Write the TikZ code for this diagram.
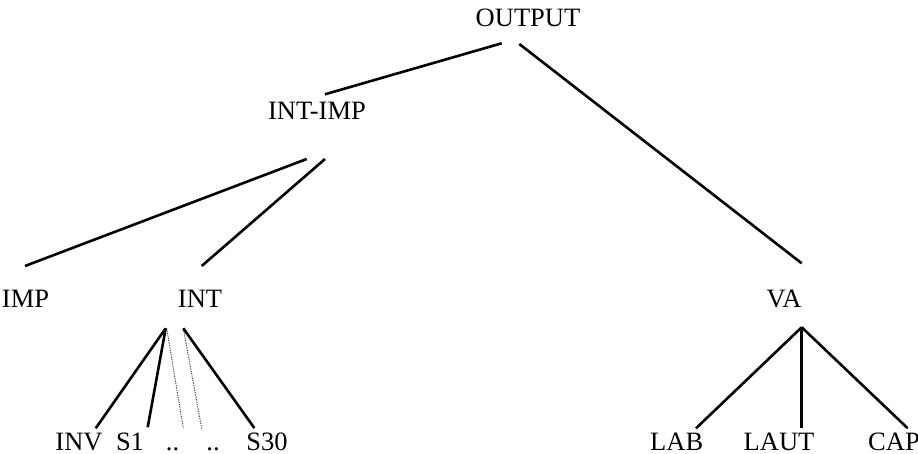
\documentclass[tikz,border=0pt]{standalone}
\usepackage{fontspec}
\setmainfont{Liberation Serif}
\begin{document}
\begin{tikzpicture}[x=1pt,y=-1pt,
  lbl/.style={anchor=base,inner sep=0pt,font=\fontsize{26.5}{30}\selectfont},
  edge/.style={line width=2.6pt},
  dotedge/.style={line width=0.9pt,dash pattern=on 1.2pt off 1.2pt,black!80}]
\useasboundingbox (0,0) rectangle (918,454);
% labels
\node[lbl] (out) at (528,27) {OUTPUT};
\node[lbl] (intimp) at (317,120) {INT-IMP};
\node[lbl] (imp) at (25.5,308) {IMP};
\node[lbl] (int) at (200,308) {INT};
\node[lbl] (va) at (784,308) {VA};
\node[lbl] (inv) at (79,450) {INV};
\node[lbl] (s1) at (130,450) {S1};
\node[lbl] (d1) at (172.5,450) {..};
\node[lbl] (d2) at (213,450) {..};
\node[lbl] (s30) at (267,450) {S30};
\node[lbl] (lab) at (676.7,450) {LAB};
\node[lbl] (laut) at (779,450) {LAUT};
\node[lbl] (cap) at (894,450) {CAP};
% connector end points
\coordinate (outL) at (501.7,43.3);
\coordinate (outR) at (519.3,44);
\coordinate (intimpT) at (325,94.3);
\coordinate (vaT) at (801.7,263.3);
\coordinate (intimpL) at (306.7,159);
\coordinate (intimpR) at (325,159);
\coordinate (impT) at (25,266);
\coordinate (intT) at (201.7,266);
\coordinate (intBL) at (165.7,328.3);
\coordinate (intBM) at (166.7,328.3);
\coordinate (intBR) at (183.3,328.3);
\coordinate (invT) at (95.7,428.3);
\coordinate (s1T) at (147.7,427.3);
\coordinate (d1T) at (183.3,428.3);
\coordinate (d2T) at (201.7,428.3);
\coordinate (s30T) at (254.3,428);
\coordinate (vaB) at (801.7,327.3);
\coordinate (labT) at (696,428.3);
\coordinate (lautT) at (801.7,428.3);
\coordinate (capT) at (907.7,428.3);
% connectors
\draw[edge] (outL) -- (intimpT);
\draw[edge] (outR) -- (vaT);
\draw[edge] (intimpL) -- (impT);
\draw[edge] (intimpR) -- (intT);
\draw[edge] (intBL) -- (invT);
\draw[edge] (intBL) -- (s1T);
\draw[dotedge] (intBM) -- (d1T);
\draw[dotedge] (intBR) -- (d2T);
\draw[edge] (intBR) -- (s30T);
\draw[edge] (vaB) -- (labT);
\draw[edge] (vaB) -- (lautT);
\draw[edge] (vaB) -- (capT);
\end{tikzpicture}
\end{document}
